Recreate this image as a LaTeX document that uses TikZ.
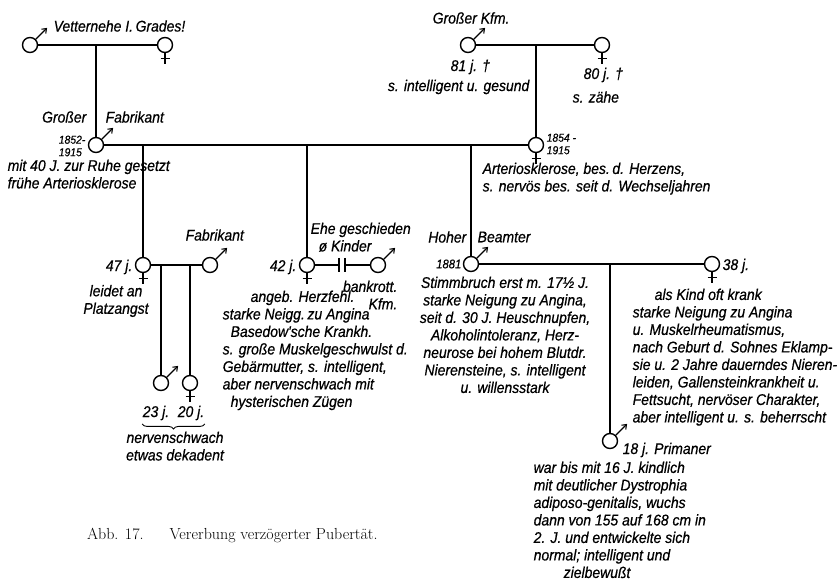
\documentclass[tikz,border=0pt]{standalone}
\usepackage{fontspec}
\usepackage{tikz}
\usetikzlibrary{arrows.meta, decorations.pathreplacing, calc}
\newfontfamily\handfont{Liberation Sans}[FakeStretch=0.9, FakeBold=0.6]

\tikzset{
  pers/.style={circle, draw, line width=1.4pt, fill=white, minimum size=15pt, inner sep=0pt},
  male/.style={pers, append after command={(\tikzlastnode.45) edge[line width=1.1pt, -{Straight Barb[length=4pt,width=6pt]}] ++(45:16pt)}},
  female/.style={pers, append after command={(\tikzlastnode.south) edge[line width=1.2pt] ++(0,-11pt) (\tikzlastnode.south) ++(-4.5pt,-5.5pt) edge[line width=1.2pt] ++(9pt,0)}},
  note/.style={font=\handfont\itshape\fontsize{15.5}{17.5}\selectfont, inner sep=0pt},
  years/.style={font=\handfont\itshape\fontsize{11.5}{12.5}\selectfont, inner sep=0pt, align=left},
}

\begin{document}
\begin{tikzpicture}[x=1pt, y=-1pt, line width=1.4pt]
    \useasboundingbox (0,0) rectangle (840,585);

    % Grosseltern links
    \node[male] (gfa) at (30,45) {};
    \node[female] (gma) at (165,45) {};
    \draw (gfa) -- (gma);
    \node[note, anchor=west] (tvet) at (53,26) {Vetternehe I.\,Grades!};

    % Grosseltern rechts
    \node[male] (gfb) at (468,45) {};
    \node[female] (gmb) at (602,45) {};
    \draw (gfb) -- (gmb);
    \node[note, anchor=west] (tkfm) at (432,18) {Großer Kfm.};
    \node[note, anchor=west] (t81) at (450,67) {81 j. †};
    \node[note, anchor=east] (tges) at (530,87) {s. intelligent u. gesund};
    \node[note, anchor=west] (t80) at (583,75) {80 j. †};
    \node[note, anchor=west] (tzae) at (572,97) {s. zähe};

    % Eltern
    \coordinate (ga) at (96,45);
    \coordinate (gb) at (536,45);
    \node[male] (vat) at (96,145) {};
    \node[female] (mut) at (536,145) {};
    \draw (ga) -- (vat);
    \draw (gb) -- (mut);
    \draw (vat) -- (mut);
    \node[note, anchor=east] (tgr) at (87,117) {Großer};
    \node[note, anchor=west] (tfab) at (105,117) {Fabrikant};
    \node[years, anchor=east] (tvy) at (86,146) {1852-\\1915};
    \node[note, anchor=north west, align=left] (tvn) at (7,159) {mit 40 J. zur Ruhe gesetzt\\frühe Arteriosklerose};
    \node[years, anchor=west] (tmy) at (546,144) {1854 -\\1915};
    \node[note, anchor=north west, align=left] (tmn) at (482,162) {Arteriosklerose, bes.\,d. Herzens,\\s. nervös bes. seit d. Wechseljahren};

    % Kinder
    \coordinate (ka) at (143,145);
    \coordinate (kb) at (307,145);
    \coordinate (kc) at (471,145);
    \node[female] (toa) at (143,265) {};
    \node[female] (tob) at (307,265) {};
    \node[male] (soa) at (471,264) {};
    \draw (ka) -- (toa);
    \draw (kb) -- (tob);
    \draw (kc) -- (soa);

    % Tochter 47 j.
    \node[male] (mna) at (210,265) {};
    \draw (toa) -- (mna);
    \node[note, anchor=east] (t47) at (133,267) {47 j.};
    \node[note, align=center] (tpl) at (116,301) {leidet an\\Platzangst};
    \node[note, anchor=west] (tfa2) at (185,235) {Fabrikant};
    \coordinate (ea) at (161,265);
    \coordinate (eb) at (190,265);
    \node[male] (eka) at (161,383) {};
    \node[female] (ekb) at (190,383) {};
    \draw (ea) -- (eka);
    \draw (eb) -- (ekb);
    \node[note] (t23) at (156,413) {23 j.};
    \node[note] (t20) at (191,413) {20 j.};
    \draw[line width=0.9pt, decorate, decoration={brace, mirror, amplitude=5pt}]
        ([yshift=-3pt]t23.south west) -- ([yshift=-3pt]t20.south east);
    \node[note, anchor=north, align=center] (tnv) at (175,431) {nervenschwach\\etwas dekadent};

    % Tochter 42 j.
    \node[male] (mnb) at (378,265) {};
    \coordinate (sa) at (339,265);
    \coordinate (sb) at (345,265);
    \draw (tob) -- (sa);
    \draw (sb) -- (mnb);
    \draw ([yshift=7pt]sa) -- ([yshift=-7pt]sa);
    \draw ([yshift=7pt]sb) -- ([yshift=-7pt]sb);
    \node[note, anchor=east] (t42) at (297,267) {42 j.};
    \node[note, anchor=north west, align=left] (tehe) at (310,222) {Ehe geschieden\\\hspace*{8pt}ø Kinder};
    \node[note, anchor=north east, align=right] (tbk) at (398,280) {bankrott.\\Kfm.};
    \node[note, anchor=north west, align=left] (tmid) at (222,290) {\hspace*{28pt}angeb. Herzfehl.\\starke Neigg.\,zu Angina\\\hspace*{8pt}Basedow'sche Krankh.\\s. große Muskelgeschwulst d.\\Gebärmutter, s. intelligent,\\aber nervenschwach mit\\\hspace*{8pt}hysterischen Zügen};

    % Sohn, hoher Beamter
    \node[note, anchor=east] (tho) at (467,237) {Hoher};
    \node[note, anchor=west] (tbe) at (477,237) {Beamter};
    \node[note, anchor=east, font=\handfont\itshape\fontsize{12.5}{14}\selectfont] (t1881) at (462,264) {1881};
    \node[note, anchor=north, align=center] (tsn) at (505,276) {Stimmbruch erst m. 17½ J.\\starke Neigung zu Angina,\\seit d. 30 J. Heuschnupfen,\\Alkoholintoleranz, Herz-\\neurose bei hohem Blutdr.\\Nierensteine, s. intelligent\\u. willensstark};
    \node[female] (fra) at (712,264) {};
    \draw (soa) -- (fra);
    \node[note, anchor=west] (t38) at (722,266) {38 j.};
    \node[note, anchor=north west, align=left] (tfr) at (632,288) {\hspace*{22pt}als Kind oft krank\\starke Neigung zu Angina\\u. Muskelrheumatismus,\\nach Geburt d. Sohnes Eklamp-\\sie u. 2 Jahre dauerndes Nieren-\\leiden, Gallensteinkrankheit u.\\Fettsucht, nervöser Charakter,\\aber intelligent u. s. beherrscht};

    % Enkel, Primaner
    \coordinate (ec) at (610,264);
    \node[male] (pri) at (610,441) {};
    \draw (ec) -- (pri);
    \node[note, anchor=west] (t18) at (622,450) {18 j. Primaner};
    \node[note, anchor=north west, align=left] (tpr) at (533,461) {war bis mit 16 J. kindlich\\mit deutlicher Dystrophia\\adiposo-genitalis, wuchs\\dann von 155 auf 168 cm in\\2. J. und entwickelte sich\\normal; intelligent und\\\hspace*{30pt}zielbewußt};

    % Unterschrift
    \node[anchor=west, font=\fontsize{16}{19}\selectfont\addfontfeatures{LetterSpace=7, FakeBold=0.4}] (cap) at (83,535) {Abb. 17.\hspace{26pt}Vererbung verzögerter Pubertät.};
\end{tikzpicture}
\end{document}
